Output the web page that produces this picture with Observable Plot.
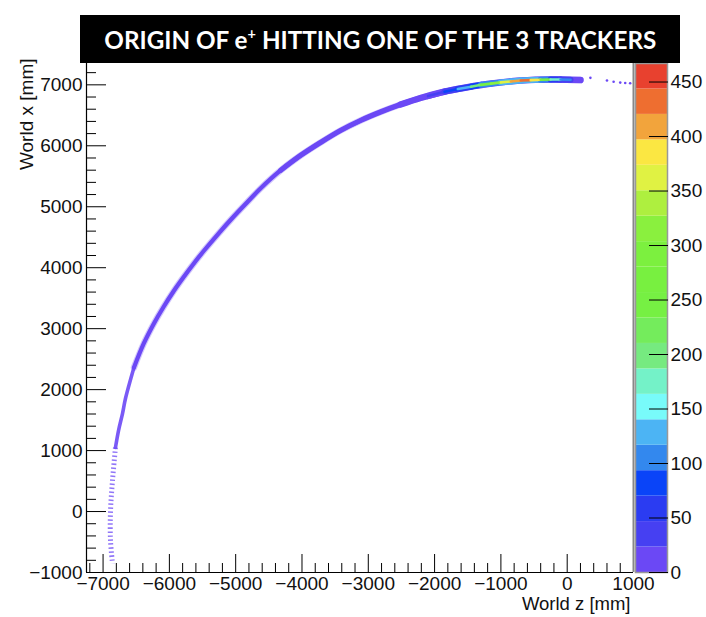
<!DOCTYPE html>
<html>
<head>
<meta charset="utf-8">
<script src="https://cdn.jsdelivr.net/npm/d3@7"></script>
<script src="https://cdn.jsdelivr.net/npm/@observablehq/plot@0.6"></script>
<style>
  html, body { margin: 0; padding: 0; background: #fff; }
  #chart { position: relative; width: 706px; height: 617px; overflow: hidden; }
  #chart svg { position: absolute; left: 0; top: 0; }
  #title {
    position: absolute; left: 80px; top: 15px; width: 600px; height: 48px;
    background: #000; color: #fff; z-index: 2;
    display: flex; align-items: center; justify-content: center;
    font-family: Lato, "Open Sans", sans-serif; font-weight: 700; font-size: 24px;
    white-space: nowrap;
  }
  #titleText { display: inline-block; transform-origin: 50% 50%; }
  #titleText sup { font-size: 0.6em; vertical-align: 0.7em; line-height: 0; }
</style>
</head>
<body>
<div id="chart">
  <div id="title"><span id="titleText">ORIGIN OF e<sup>+</sup> HITTING ONE OF THE 3 TRACKERS</span></div>
</div>
<script>
// Frame ranges of the histogram (mm)
const zDomain = [-7250, 1000];
const xDomain = [-1000, 7350];

// Axis tick labels
const zMajorTicks = [-7000, -6000, -5000, -4000, -3000, -2000, -1000, 0, 1000];
const xMajorTicks = [-1000, 0, 1000, 2000, 3000, 4000, 5000, 6000, 7000];
const countTicks = [0, 50, 100, 150, 200, 250, 300, 350, 400, 450];

// Colour palette: 20 contour levels from 0 to the maximum bin content
const countMax = 467;
const nLevels = 20;
const palette = [
  "#6b48f5", "#4640f2", "#2b3cf2", "#0a44f8", "#3388ee",
  "#4cb4f4", "#78fbfa", "#74f2c8", "#76ea80", "#74ec5c",
  "#76f043", "#78f040", "#7cf03f", "#8af03e", "#aeef3f",
  "#e0f243", "#fbe742", "#f2a43c", "#ee6e30", "#e8412f"
];

// Populated band of origins (world z, world x), mm
const arcZ = [-6662, -6534, -6386, -6233, -6093, -5929, -5823, -5620, -5476, -5259,
              -5057, -4829, -4626, -4324, -4022, -3721, -3419, -3117, -2816, -2514,
              -2213, -1911, -1654, -1202, -704, -207, 201];
const arcX = [1854, 2363, 2757, 3085, 3347, 3626, 3790, 4086, 4282, 4561,
              4807, 5070, 5299, 5595, 5841, 6054, 6251, 6415, 6554, 6677,
              6784, 6874, 6932, 7014, 7071, 7088, 7079];

// Thinner, sparser continuation towards low world x
const midTailZ = [-6534, -6662, -6707, -6767, -6813];
const midTailX = [2363, 1854, 1608, 1329, 1050];
const lowTailZ = [-6813, -6858, -6888, -6888, -6858];
const lowTailX = [1050, 509, 0, -475, -852];

// High-occupancy core near the top of the arc, with bin contents
const coreZ = [-2100, -1850, -1650, -1450, -1300, -1150, -1000, -850, -700, -550, -400, -250, -100, 50];
const coreX = [6815, 6888, 6932, 6970, 7000, 7020, 7040, 7055, 7071, 7078, 7084, 7088, 7087, 7084];
const coreCount = [30, 60, 110, 170, 230, 280, 330, 390, 450, 420, 330, 220, 140, 70];
const edgeCount = [15, 30, 50, 70, 90, 110, 120, 130, 140, 130, 110, 80, 50, 30];

// Isolated entries beyond the end of the arc
const strayZ = [350, 600, 700, 800, 875, 950];
const strayX = [7115, 7070, 7050, 7037, 7030, 7025];

const levels = d3.range(1, nLevels).map(i => i * countMax / nLevels);
const color = {type: "threshold", domain: levels, range: palette};
const fmt = d => d < 0 ? "\u2212" + Math.abs(d) : String(d);
const font = "'Liberation Sans', Arial, Helvetica, sans-serif";

const rows = (zs, xs) => zs.map((z, i) => ({z, x: xs[i]}));
const arcRows = rows(arcZ, arcX);
const midTail = rows(midTailZ, midTailX);
const lowTail = rows(lowTailZ, lowTailX);
const strayRows = rows(strayZ, strayX);
const coreSegs = coreZ.slice(0, -1).map((z, i) => ({
  za: z, xa: coreX[i], zb: coreZ[i + 1], xb: coreX[i + 1],
  c: (coreCount[i] + coreCount[i + 1]) / 2,
  e: (edgeCount[i] + edgeCount[i + 1]) / 2
}));

const zMinor = d3.range(-7200, 1001, 200).filter(v => v % 1000 !== 0);
const xMinor = d3.range(-1000, 7351, 200).filter(v => v % 1000 !== 0);
const low = palette[0];
const band = {x: "z", y: "x", stroke: low, curve: "catmull-rom", strokeLinecap: "round"};

const main = Plot.plot({
  width: 706, height: 617,
  marginLeft: 86, marginRight: 73, marginTop: 63, marginBottom: 45,
  x: {domain: zDomain, axis: null},
  y: {domain: xDomain, axis: null},
  color,
  style: {fontFamily: font, fontSize: "19px", color: "#111", background: "transparent", overflow: "visible"},
  marks: [
    // sparse tail
    Plot.line(lowTail, {...band, strokeWidth: 5, strokeOpacity: 0.75, strokeDasharray: "1.5 2.5", strokeLinecap: "butt"}),
    Plot.line(midTail, {...band, strokeWidth: 3.6, strokeOpacity: 0.9}),
    // populated band with soft edges
    Plot.line(arcRows.filter(d => d.x > 2000), {...band, strokeWidth: 6.5, strokeOpacity: 0.3}),
    Plot.line(arcRows.filter(d => d.x > 2000), {...band, strokeWidth: 4.2}),
    Plot.line(arcRows.filter(d => d.z > -4400), {...band, strokeWidth: 5.2}),
    Plot.line(arcRows.filter(d => d.z > -2800), {...band, strokeWidth: 6.4}),
    // high-occupancy core
    Plot.link(coreSegs, {x1: "za", y1: "xa", x2: "zb", y2: "xb", stroke: "e", strokeWidth: 6, strokeLinecap: "round"}),
    Plot.link(coreSegs, {x1: "za", y1: "xa", x2: "zb", y2: "xb", stroke: "c", strokeWidth: 2.6, strokeLinecap: "round"}),
    Plot.dot(strayRows, {x: "z", y: "x", r: 1.3, fill: low, stroke: null}),
    // frame
    Plot.ruleY([xDomain[0]], {stroke: "#000", strokeWidth: 1.2}),
    Plot.ruleX([zDomain[0]], {stroke: "#000", strokeWidth: 1.2}),
    Plot.ruleX([zDomain[1]], {stroke: "#888", strokeWidth: 2}),
    // inward ticks
    Plot.ruleX(zMinor, {x: d => d, y1: xDomain[0], y2: xDomain[0], insetTop: -9, stroke: "#000"}),
    Plot.ruleX(zMajorTicks.slice(0, -1), {x: d => d, y1: xDomain[0], y2: xDomain[0], insetTop: -18, stroke: "#000"}),
    Plot.ruleY(xMinor, {y: d => d, x1: zDomain[0], x2: zDomain[0], insetRight: -10, stroke: "#000"}),
    Plot.ruleY(xMajorTicks, {y: d => d, x1: zDomain[0], x2: zDomain[0], insetRight: -20, stroke: "#000"}),
    // tick labels
    Plot.axisX(zMajorTicks, {tickSize: 0, tickPadding: 4, tickFormat: fmt, fontSize: 19}),
    Plot.axisY(xMajorTicks, {tickSize: 0, tickPadding: 4, tickFormat: fmt, fontSize: 19}),
    // axis titles
    Plot.text(["World z [mm]"], {text: d => d, frameAnchor: "bottom-right", dx: -3, dy: 37, textAnchor: "end", fontSize: 18.5}),
    Plot.text(["World x [mm]"], {text: d => d, frameAnchor: "top-left", dx: -67, dy: -5, rotate: -90, textAnchor: "end", fontSize: 19})
  ]
});

// colour bar
const levelRows = d3.range(nLevels).map(i => ({lo: i * countMax / nLevels, hi: (i + 1) * countMax / nLevels, mid: (i + 0.5) * countMax / nLevels}));
const bar = Plot.plot({
  width: 706, height: 617,
  marginLeft: 635, marginRight: 39, marginTop: 63, marginBottom: 45,
  x: {domain: [0, 1], axis: null},
  y: {domain: [0, countMax], axis: null},
  color,
  style: {fontFamily: font, fontSize: "19px", color: "#111", background: "transparent", overflow: "visible"},
  marks: [
    Plot.rect(levelRows, {x1: 0, x2: 1, y1: "lo", y2: "hi", fill: "mid"}),
    Plot.frame({stroke: "#999", strokeWidth: 1.5}),
    Plot.ruleY(countTicks, {y: d => d, x1: 1, x2: 1, insetLeft: -18, insetRight: -1, stroke: "#000"}),
    Plot.axisY(countTicks, {anchor: "right", tickSize: 0, tickPadding: 3, fontSize: 19})
  ]
});

const chart = document.getElementById("chart");
chart.insertBefore(bar, chart.firstChild);
chart.insertBefore(main, chart.firstChild);

// fit the heading to its banner
const span = document.getElementById("titleText");
const w = span.getBoundingClientRect().width;
if (w > 0) span.style.transform = `scaleX(${552 / w})`;
</script>
</body>
</html>
